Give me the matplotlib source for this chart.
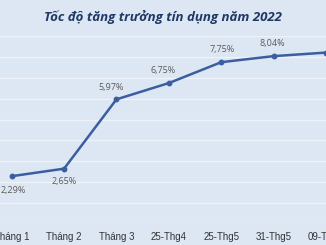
import matplotlib
matplotlib.use("Agg")
import matplotlib.pyplot as plt

categories = ["Tháng 1", "Tháng 2", "Tháng 3", "25-Thg4", "25-Thg5", "31-Thg5", "09-Thg6"]
values = [2.29, 2.65, 5.97, 6.75, 7.75, 8.04, 8.21]
labels = ["2,29%", "2,65%", "5,97%", "6,75%", "7,75%", "8,04%", ""]
title = "Tốc độ tăng trưởng tín dụng năm 2022"

# label offsets (points) relative to each data point
offsets = [(1, -7), (0, -6), (-4, 5), (-4, 6), (1, 6), (-1, 6), (0, 6)]

bg = "#dde7f3"
fig = plt.figure(figsize=(3.26, 2.45), dpi=100)
fig.patch.set_facecolor(bg)
ax = fig.add_axes([0, 0.0857, 1, 0.767])
ax.set_facecolor(bg)

x = list(range(len(categories)))
ax.plot(x, values, color="#3b5ea0", lw=1.8, marker="o", ms=3.2, zorder=3)
for xi, v, lab, off in zip(x, values, labels, offsets):
    if lab:
        ax.annotate(lab, (xi, v), xytext=off, textcoords="offset points",
                    ha="center", va="bottom" if off[1] > 0 else "top",
                    fontsize=6.5, color="#5a5a5a", family="Open Sans")

ax.set_xlim(-0.223, 5.847)
ax.set_ylim(0, 9)
ax.set_yticks(range(0, 10))
ax.yaxis.grid(True, color="#eef3f9", lw=0.9)
ax.set_axisbelow(True)
ax.tick_params(axis="y", left=False, labelleft=False)
ax.set_xticks(x)
ax.set_xticklabels(categories, fontsize=7, color="#333333", family="Liberation Sans")
ax.tick_params(axis="x", length=0, pad=6)
for s in ax.spines.values():
    s.set_visible(False)

fig.text(0.5, 0.932, title, ha="center", va="center", fontsize=9.5,
         fontweight="bold", fontstyle="italic", color="#1f3864", family="Open Sans")

fig.savefig("out.png", dpi=100, facecolor=bg)
